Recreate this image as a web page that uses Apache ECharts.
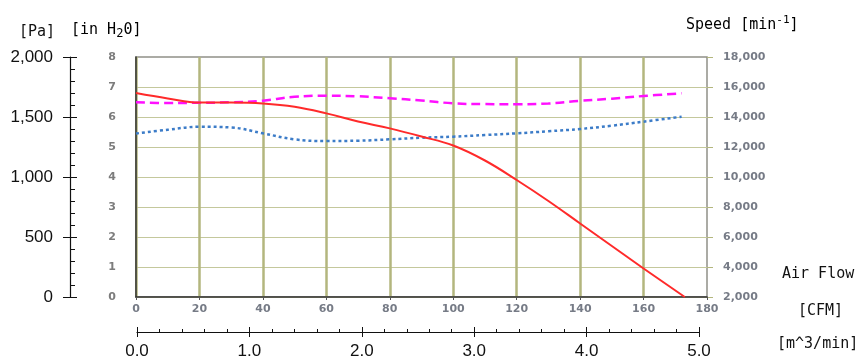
<!DOCTYPE html>
<html>
<head>
<meta charset="utf-8">
<script src="https://cdn.jsdelivr.net/npm/echarts@6/dist/echarts.min.js"></script>
<style>
  html, body { margin: 0; padding: 0; background: #fff; }
  #chart { width: 859px; height: 364px; }
</style>
</head>
<body>
<div id="chart"></div>
<script>
// static pressure curve [in H2O] vs air flow [CFM]
var pressureFlow = [0, 10, 20, 30, 40, 50, 60, 70, 80, 90, 100, 110, 120, 130, 140, 150, 160, 173];
var pressure     = [6.8, 6.62, 6.48, 6.48, 6.45, 6.34, 6.12, 5.85, 5.62, 5.35, 5.05, 4.55, 3.9, 3.2, 2.45, 1.7, 0.95, 0];

// speed curves [min-1] vs air flow [CFM]
var speedFlow = [0, 10, 20, 30, 40, 50, 60, 70, 80, 90, 100, 110, 120, 130, 140, 150, 160, 172];
var speedHigh = [14980, 14930, 14950, 14980, 15090, 15350, 15420, 15380, 15250, 15100, 14910, 14860, 14850, 14900, 15080, 15220, 15400, 15580];
var speedLow  = [12900, 13150, 13350, 13300, 12910, 12510, 12400, 12420, 12510, 12620, 12690, 12800, 12910, 13050, 13200, 13420, 13690, 14020];

function pairs(xs, ys) {
    return xs.map(function (x, i) { return [x, ys[i]]; });
}

var smallLabel = { color: '#767b86', fontSize: 11, fontWeight: 'bold', fontFamily: 'DejaVu Sans' };
var olive = '#b3b67e';
var mono = 'DejaVu Sans Mono';

var chart = echarts.init(document.getElementById('chart'));
chart.setOption({
    animation: false,
    backgroundColor: '#fff',
    grid: [
        { left: 136, right: 152, top: 57, bottom: 67, show: true, borderColor: '#909088', borderWidth: 1.5 },
        { left: 137, width: 562, top: 300, height: 32 }
    ],
    xAxis: [
        {
            type: 'value', gridIndex: 0, min: 0, max: 180, interval: 20,
            axisLine: { show: true, lineStyle: { color: '#333', width: 1.5 } },
            axisTick: { show: true, length: 3, lineStyle: { color: '#555' } },
            axisLabel: Object.assign({ margin: 7 }, smallLabel),
            splitLine: { show: true, showMaxLine: false, lineStyle: { color: olive, width: 2.5 } }
        },
        {
            type: 'value', gridIndex: 1, min: 0, max: 5, interval: 1, position: 'bottom',
            axisLine: { show: true, onZero: false, lineStyle: { color: '#111', width: 1.2 } },
            axisTick: { show: true, length: 5, lineStyle: { color: '#111' } },
            axisLabel: {
                margin: 11, color: '#111', fontSize: 17, fontFamily: 'Liberation Sans',
                formatter: function (v) { return v.toFixed(1); }
            },
            splitLine: { show: false }
        },
        {
            type: 'value', gridIndex: 1, min: 0, max: 5, interval: 1, position: 'bottom',
            axisLine: { show: false, onZero: false },
            axisTick: { show: true, inside: true, length: 5, lineStyle: { color: '#111' } },
            minorTick: { show: true, splitNumber: 5, length: 3, lineStyle: { color: '#111' } },
            axisLabel: { show: false },
            splitLine: { show: false }
        }
    ],
    yAxis: [
        {
            type: 'value', gridIndex: 0, min: 0, max: 8, interval: 1, position: 'left',
            axisLine: { show: true, lineStyle: { color: '#333', width: 1.5 } },
            axisTick: { show: false },
            axisLabel: Object.assign({ margin: 20 }, smallLabel, { color: '#7c7c7c' }),
            splitLine: { show: true, showMaxLine: false, lineStyle: { color: '#c4c89c', width: 1.2 } }
        },
        {
            type: 'value', gridIndex: 0, min: 2000, max: 18000, interval: 2000, position: 'right',
            axisLine: { show: false },
            axisTick: { show: true, length: 6, lineStyle: { color: olive } },
            axisLabel: Object.assign({
                margin: 16,
                formatter: function (v) { return v.toLocaleString('en-US'); }
            }, smallLabel),
            splitLine: { show: false }
        },
        {
            type: 'value', gridIndex: 0, min: 0, max: 2000, interval: 500, position: 'left', offset: 66,
            axisLine: { show: true, lineStyle: { color: '#111', width: 1.2 } },
            axisTick: { show: true, length: 7, lineStyle: { color: '#111' } },
            axisLabel: {
                margin: 17, color: '#111', fontSize: 17, fontFamily: 'Liberation Sans',
                formatter: function (v) { return v.toLocaleString('en-US'); }
            },
            splitLine: { show: false }
        },
        {
            type: 'value', gridIndex: 0, min: 0, max: 2000, interval: 500, position: 'left', offset: 66,
            axisLine: { show: false },
            axisTick: { show: true, inside: true, length: 7, lineStyle: { color: '#111' } },
            minorTick: { show: true, splitNumber: 5, length: 5, lineStyle: { color: '#111' } },
            axisLabel: { show: false },
            splitLine: { show: false }
        },
        {
            type: 'value', gridIndex: 1, show: false
        }
    ],
    series: [
        {
            name: 'speedHigh', type: 'line', xAxisIndex: 0, yAxisIndex: 1,
            data: pairs(speedFlow, speedHigh), smooth: 0.4, symbol: 'none',
            lineStyle: { color: '#ff10ff', width: 2.5, type: [9, 5] }
        },
        {
            name: 'speedLow', type: 'line', xAxisIndex: 0, yAxisIndex: 1,
            data: pairs(speedFlow, speedLow), smooth: 0.4, symbol: 'none',
            lineStyle: { color: '#3c7cc8', width: 2.5, type: [3, 3] }
        },
        {
            name: 'pressure', type: 'line', xAxisIndex: 0, yAxisIndex: 0,
            data: pairs(pressureFlow, pressure), smooth: 0.4, symbol: 'none',
            lineStyle: { color: '#ff2a2a', width: 2 }
        }
    ],
    graphic: [
        { type: 'text', left: 19, top: 25, style: { text: '[Pa]', font: '15px ' + mono, fill: '#111' } },
        {
            type: 'text', left: 71, top: 23,
            style: {
                text: '{a|[in H}{b|2}{a|0]}',
                rich: {
                    a: { fontFamily: mono, fontSize: 15, color: '#111' },
                    b: { fontFamily: mono, fontSize: 12, color: '#111', padding: [6, 0, 0, 0] }
                }
            }
        },
        {
            type: 'text', left: 686, top: 15,
            style: {
                text: '{a|Speed [min}{b|-1}{a|]}',
                rich: {
                    a: { fontFamily: mono, fontSize: 15, color: '#111' },
                    b: { fontFamily: mono, fontSize: 11, color: '#111', padding: [0, 0, 9, 0] }
                }
            }
        },
        { type: 'text', left: 782, top: 267, style: { text: 'Air Flow', font: '15px ' + mono, fill: '#111' } },
        { type: 'text', left: 798, top: 304, style: { text: '[CFM]', font: '15px ' + mono, fill: '#111' } },
        { type: 'text', left: 777, top: 337, style: { text: '[m^3/min]', font: '15px ' + mono, fill: '#111' } }
    ]
});
</script>
</body>
</html>
